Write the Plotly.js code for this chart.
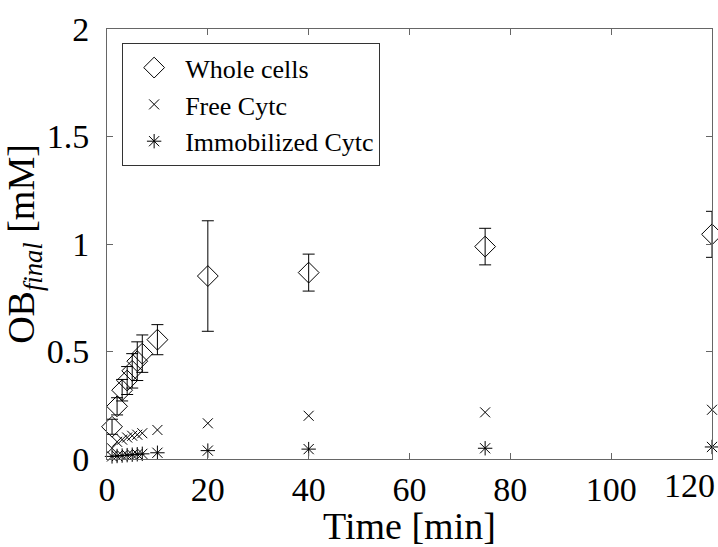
<!DOCTYPE html>
<html>
<head>
<meta charset="utf-8">
<script src="https://cdn.plot.ly/plotly-3.0.1.min.js"></script>
<style>html,body{margin:0;padding:0;background:#fff;}#chart{width:718px;height:547px;}</style>
</head>
<body>
<div id="chart"></div>
<script>
const time = [1, 2, 3, 4, 5, 6, 7, 10, 20, 40, 75, 120];
const wholeCells = [0.15, 0.245, 0.32, 0.365, 0.41, 0.455, 0.49, 0.555, 0.851, 0.867, 0.988, 1.045];
const wholeCellsErr = [0.035, 0.04, 0.05, 0.065, 0.08, 0.09, 0.087, 0.07, 0.257, 0.086, 0.085, 0.107];
const freeCytc = [0.05, 0.08, 0.09, 0.1, 0.108, 0.113, 0.12, 0.135, 0.166, 0.201, 0.217, 0.229];
const immobCytc = [0.012, 0.014, 0.016, 0.018, 0.02, 0.022, 0.024, 0.029, 0.039, 0.046, 0.05, 0.056];
const xTicks = [0, 20, 40, 60, 80, 100, 120];
const xTickText = ["0", "20", "40", "60", "80", "100", ""];
const lastXTick = "120";
const yTicks = [0, 0.5, 1, 1.5, 2];
const yTickText = ["0", "0.5", "1", "1.5", "2"];

const FONT = "Liberation Serif, Times New Roman, serif";
const TICKSIZE = 34;
const traces = [
  {x: time, y: wholeCells, type: 'scatter', mode: 'markers', name: 'Whole cells', cliponaxis: false,
   marker: {symbol: 'diamond-open', size: 16, color: '#000', line: {width: 1, color: '#000'}},
   error_y: {type: 'data', array: wholeCellsErr, visible: true, color: '#000', thickness: 1, width: 6}},
  {x: time, y: freeCytc, type: 'scatter', mode: 'markers', name: 'Free Cytc', cliponaxis: false,
   marker: {symbol: 'x-thin-open', size: 10, color: '#000', line: {width: 1, color: '#000'}}},
  {x: time, y: immobCytc, type: 'scatter', mode: 'markers', name: 'Immobilized Cytc', cliponaxis: false,
   marker: {symbol: 'asterisk-open', size: 12, color: '#000', line: {width: 1, color: '#000'}}}
];
const axisCommon = {
  showgrid: false, zeroline: false, showline: true, linecolor: '#666', linewidth: 1,
  mirror: 'ticks', ticks: 'inside', ticklen: 6, tickcolor: '#666',
  tickfont: {family: FONT, size: TICKSIZE, color: '#000'}
};
const layout = {
  width: 718, height: 547,
  margin: {l: 107, r: 6, t: 29, b: 88},
  paper_bgcolor: '#fff', plot_bgcolor: '#fff',
  font: {family: FONT, color: '#000'},
  showlegend: true,
  legend: {x: 0.025, y: 0.967, xanchor: 'left', yanchor: 'top',
    bgcolor: '#fff', bordercolor: '#333', borderwidth: 1,
    font: {family: FONT, size: 26, color: '#000'}, tracegroupgap: 0, itemwidth: 52},
  xaxis: Object.assign({}, axisCommon, {range: [0, 120], tickvals: xTicks, ticktext: xTickText,
    title: {text: 'Time [min]\u00a0\u00a0', font: {family: FONT, size: 38, color: '#000'}, standoff: 0}}),
  yaxis: Object.assign({}, axisCommon, {range: [0, 2], tickvals: yTicks, ticktext: yTickText,
    ticklabelstandoff: 10,
    title: {text: 'OB<sub><i>final</i></sub> [mM]', font: {family: FONT, size: 38, color: '#000'}, standoff: 6}}),
  annotations: [{x: xTicks[xTicks.length - 1], xref: 'x', y: 0, yref: 'paper', text: lastXTick,
    showarrow: false, xanchor: 'right', yanchor: 'top', xshift: 5, yshift: -6,
    font: {family: FONT, size: TICKSIZE, color: '#000'}}]
};
Plotly.newPlot('chart', traces, layout, {displayModeBar: false, staticPlot: true});
</script>
</body>
</html>
